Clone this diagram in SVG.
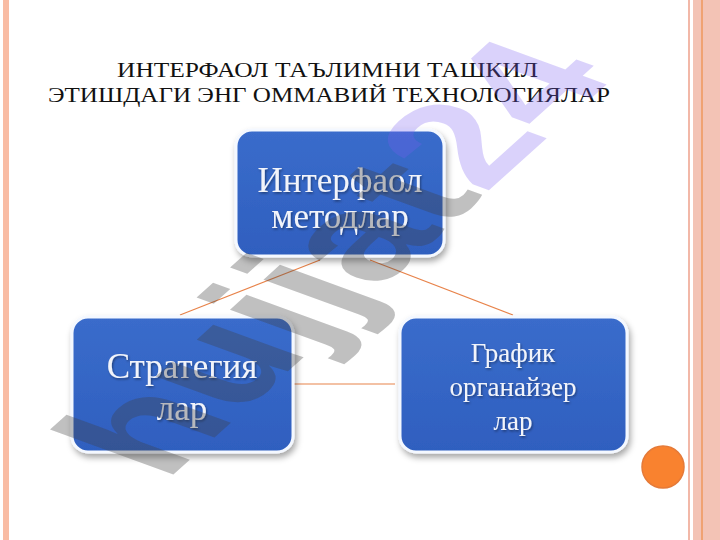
<svg xmlns="http://www.w3.org/2000/svg" width="720" height="540" viewBox="0 0 720 540">
<defs>
<filter id="sh" x="-20%" y="-20%" width="140%" height="150%">
<feDropShadow dx="2" dy="4" stdDeviation="3" flood-color="#000" flood-opacity="0.35"/>
</filter>
<filter id="tsh" x="-10%" y="-10%" width="120%" height="130%">
<feDropShadow dx="1" dy="1.5" stdDeviation="1" flood-color="#000" flood-opacity="0.4"/>
</filter>
<linearGradient id="bg" x1="0" y1="0" x2="0" y2="1">
<stop offset="0" stop-color="#3a6ccb"/>
<stop offset="1" stop-color="#2f5fbf"/>
</linearGradient>
</defs>
<style>
.box{fill:url(#bg);stroke:#f4f8ff;stroke-width:3;filter:url(#sh)}
.lbl{font-family:"Liberation Serif","DejaVu Serif",serif;fill:#f2f4fa;text-anchor:middle;filter:url(#tsh)}
.ttl{font-family:"Liberation Serif","DejaVu Serif",serif;font-size:22px;fill:#111}
.con{stroke:#e8834a;stroke-width:1.2;fill:none}
</style>
<rect width="720" height="540" fill="#fff"/>
<rect x="3" y="0" width="6" height="540" fill="#f9bca4"/>
<rect x="688" y="0" width="2" height="540" fill="#f2b8a8"/>
<rect x="693" y="0" width="27" height="540" fill="#f3c3b5"/>
<rect x="701" y="0" width="2" height="540" fill="#f0a272"/>
<circle cx="663" cy="467" r="21" fill="#f9822f" stroke="#e57a38" stroke-width="1.5"/>
<g id="title">
<text class="ttl" x="117" y="77" textLength="421" lengthAdjust="spacingAndGlyphs">ИНТЕРФАОЛ ТАЪЛИМНИ ТАШКИЛ</text>
<text class="ttl" x="48" y="102" textLength="562" lengthAdjust="spacingAndGlyphs">ЭТИШДАГИ ЭНГ ОММАВИЙ ТЕХНОЛОГИЯЛАР</text>
</g>
<g id="connectors">
<line class="con" x1="320" y1="260" x2="180" y2="315"/>
<line class="con" x1="370" y1="260" x2="513" y2="315"/>
<line class="con" x1="293" y1="384" x2="395" y2="384"/>
</g>
<g id="node-top">
<rect class="box" x="236" y="130" width="208" height="126" rx="16"/>
<text class="lbl" x="340" y="192" font-size="35">Интерфаол</text>
<text class="lbl" x="340" y="228" font-size="35">методлар</text>
</g>
<g id="node-left">
<rect class="box" x="72" y="317" width="221" height="135" rx="16"/>
<text class="lbl" x="182" y="378" font-size="35">Стратегия</text>
<text class="lbl" x="182" y="420" font-size="35">лар</text>
</g>
<g id="node-right">
<rect class="box" x="400" y="317" width="227" height="135" rx="16"/>
<text class="lbl" x="513" y="362" font-size="27">График</text>
<text class="lbl" x="513" y="396" font-size="27">органайзер</text>
<text class="lbl" x="513" y="430" font-size="27">лар</text>
</g>
<g id="watermark" transform="translate(165,482) rotate(-42) skewX(28)" font-family="Liberation Sans" font-weight="bold" font-size="160">
<text x="0" y="0" textLength="610" lengthAdjust="spacingAndGlyphs"><tspan fill="#404040" fill-opacity="0.33">hujjat</tspan><tspan fill="#7b5cf0" fill-opacity="0.28">24</tspan></text>
</g>
</svg>
